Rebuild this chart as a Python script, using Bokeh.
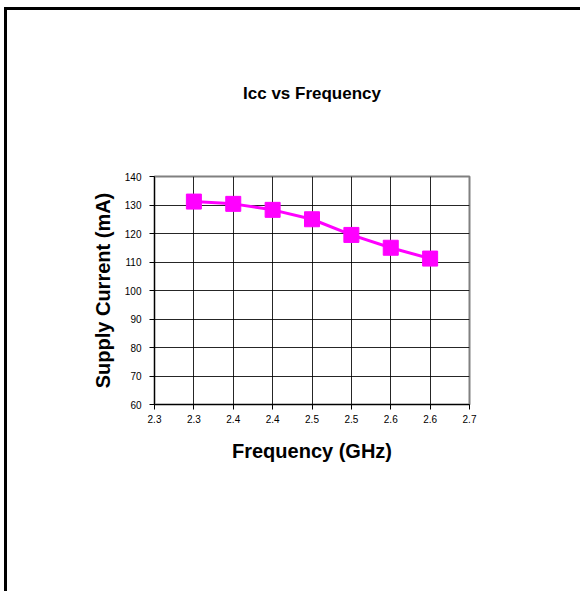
from bokeh.plotting import figure
from bokeh.models import FixedTicker, Range1d
from bokeh.embed import file_html
from bokeh.resources import INLINE

# ---- data ----
freq_ghz = [2.35, 2.40, 2.45, 2.50, 2.55, 2.60, 2.65]
supply_ma = [131.2, 130.4, 128.3, 125.0, 119.5, 115.0, 111.2]
x_ticks = [2.30, 2.35, 2.40, 2.45, 2.50, 2.55, 2.60, 2.65, 2.70]
x_tick_labels = ["2.3", "2.3", "2.4", "2.4", "2.5", "2.5", "2.6", "2.6", "2.7"]
y_ticks = [60, 70, 80, 90, 100, 110, 120, 130, 140]
title_text = "Icc vs Frequency"
x_title = "Frequency (GHz)"
y_title = "Supply Current (mA)"

FONT = "Liberation Sans"
W, H = 576, 584

p = figure(width=W, height=H, output_backend="svg", toolbar_location=None,
           x_range=Range1d(2.3, 2.7), y_range=Range1d(60, 140),
           min_border_left=147, min_border_right=W - 462,
           min_border_top=166, min_border_bottom=H - 394,
           background_fill_color="white", border_fill_color="white",
           styles={"margin-left": "4px", "margin-top": "7px",
                   "border-left": "3px solid black", "border-top": "3px solid black"})

p.outline_line_color = "#808080"
p.outline_line_width = 2

# title
p.title.text = title_text
p.title.align = "center"
p.title.vertical_align = "top"
p.title.text_font = FONT
p.title.text_font_style = "bold"
p.title.text_font_size = "17px"
p.title.text_color = "black"
p.title.standoff = 144
p.title.offset = 2

# grid
p.xgrid.ticker = FixedTicker(ticks=x_ticks)
p.ygrid.ticker = FixedTicker(ticks=y_ticks)
for g in (p.xgrid, p.ygrid):
    g.grid_line_color = "black"
    g.grid_line_width = 1
    g.grid_line_alpha = 0.85

# axes
p.xaxis.ticker = FixedTicker(ticks=x_ticks)
p.xaxis.major_label_overrides = {t: l for t, l in zip(x_ticks, x_tick_labels)}
p.yaxis.ticker = FixedTicker(ticks=y_ticks)
for ax in (p.xaxis, p.yaxis):
    ax.axis_line_color = "black"
    ax.axis_line_width = 1
    ax.major_tick_line_color = "black"
    ax.major_tick_out = 5
    ax.major_tick_in = 0
    ax.minor_tick_line_color = None
    ax.major_label_text_font = FONT
    ax.major_label_text_font_size = "10px"
    ax.major_label_text_color = "black"
    ax.axis_label_text_font = FONT
    ax.axis_label_text_font_style = "bold"
    ax.axis_label_text_font_size = "20px"
    ax.axis_label_text_color = "black"

p.xaxis.major_label_standoff = 5
p.yaxis.major_label_standoff = 8
p.xaxis.axis_label = x_title
p.yaxis.axis_label = y_title
p.xaxis.axis_label_standoff = 14
p.yaxis.axis_label_standoff = 8

# series
p.line(freq_ghz, supply_ma, line_color="#FF00FF", line_width=3)
p.scatter(freq_ghz, supply_ma, marker="square", size=15,
          fill_color="#FF00FF", line_color="#FF00FF")

open("out.html", "w").write(file_html(p, INLINE))
